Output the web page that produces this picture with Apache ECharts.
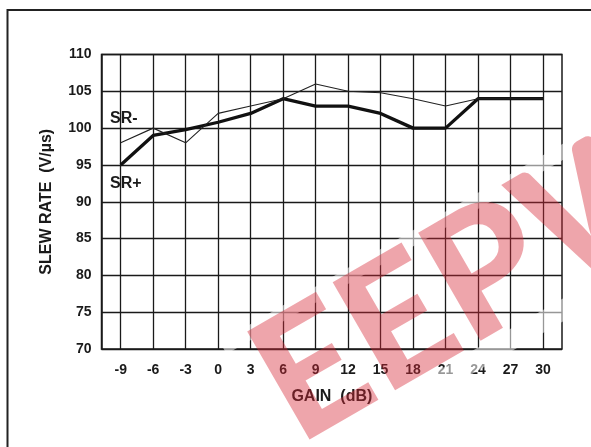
<!DOCTYPE html>
<html><head><meta charset="utf-8">
<script src="https://cdn.jsdelivr.net/npm/echarts@6/dist/echarts.min.js"></script>
<style>html,body{margin:0;padding:0;background:#fff}#c{width:591px;height:447px}</style>
</head><body><div id="c"></div>
<script>
// ---- data ----
const gain    = [-9, -6, -3, 0, 3, 6, 9, 12, 15, 18, 21, 24, 27, 30];
const srPlus  = [95, 99, 99.8, 100.8, 102, 104, 103, 103, 102, 100, 100, 104, 104, 104];
const srMinus = [98, 100, 98, 102, 103, 104, 106, 105, 104.8, 104, 103, 104, 104, 104];
const xRange  = [-9, 30, 3];      // min, max, step of GAIN ticks
const yRange  = [70, 110, 5];     // min, max, step of SLEW RATE ticks
const xTitle  = 'GAIN  (dB)';
const yTitle  = 'SLEW RATE  (V/\u00B5s)';
const seriesNames = ['SR+', 'SR-'];
const watermark = 'EEPW';

const FONT = '"Liberation Sans", Arial, sans-serif';
const ink = '#1a1a1a';
const chart = echarts.init(document.getElementById('c'), null, {renderer: 'canvas'});
const lblStyle = {color: ink, fontWeight: 'bold', fontSize: 14, fontFamily: FONT};
const nameStyle = {color: ink, fontWeight: 'bold', fontSize: 16, fontFamily: FONT};
const pairs = arr => gain.map((g, i) => [g, arr[i]]);
const rot = Math.PI / 6;

chart.setOption({
  animation: false,
  grid: [
    {left: 101.5, right: 29, top: 54.5, bottom: 98, show: true, borderColor: ink, borderWidth: 1.5},
    {left: 120.7, right: 48, top: 54.5, bottom: 98}
  ],
  xAxis: [
    {gridIndex: 0, type: 'value', min: 0, max: 1, show: false},
    {gridIndex: 1, type: 'value', min: xRange[0], max: xRange[1], interval: xRange[2],
      axisLine: {show: false}, axisTick: {show: false},
      splitLine: {show: true, lineStyle: {color: ink, width: 1.3}},
      axisLabel: Object.assign({margin: 14}, lblStyle),
      name: xTitle, nameLocation: 'middle', nameGap: 40,
      nameTextStyle: nameStyle}
  ],
  yAxis: [
    {gridIndex: 0, type: 'value', min: yRange[0], max: yRange[1], interval: yRange[2],
      axisLine: {show: true, lineStyle: {color: ink, width: 1.5}}, axisTick: {show: false},
      splitLine: {show: true, lineStyle: {color: ink, width: 1.3}},
      axisLabel: Object.assign({margin: 10}, lblStyle),
      name: yTitle, nameLocation: 'middle', nameGap: 47,
      nameTextStyle: nameStyle},
    {gridIndex: 1, type: 'value', min: yRange[0], max: yRange[1], show: false}
  ],
  series: [
    {name: seriesNames[0], type: 'line', xAxisIndex: 1, yAxisIndex: 1, data: pairs(srPlus),
      symbol: 'none', lineStyle: {color: '#111', width: 3.3}, z: 3},
    {name: seriesNames[1], type: 'line', xAxisIndex: 1, yAxisIndex: 1, data: pairs(srMinus),
      symbol: 'none', lineStyle: {color: '#222', width: 1.1}, z: 4}
  ],
  graphic: [
    {type: 'rect', shape: {x: 7.5, y: 10, width: 700, height: 600},
      style: {fill: 'none', stroke: '#222', lineWidth: 2}, z: 1, silent: true},
    {type: 'text', x: 110, y: 119, style: {text: seriesNames[1], font: 'bold 16px ' + FONT, fill: ink, textVerticalAlign: 'middle'}, z: 5},
    {type: 'text', x: 110, y: 184, style: {text: seriesNames[0], font: 'bold 16px ' + FONT, fill: ink, textVerticalAlign: 'middle'}, z: 5},
    {type: 'group', x: 274, y: 396, rotation: rot, z: 100, silent: true, children: [
      {type: 'rect', shape: {x: -20, y: -74, width: 720, height: 14}, style: {fill: 'rgba(255,255,255,0.55)'}, z: 100},
      {type: 'rect', shape: {x: 150, y: 60, width: 720, height: 20}, style: {fill: 'rgba(255,255,255,0.55)'}, z: 100},
      {type: 'text', x: -4, y: 0, style: {text: watermark, font: '900 172px Lato, Inter, "Liberation Sans", sans-serif',
        fill: 'rgba(214,40,55,0.42)', textVerticalAlign: 'middle', textAlign: 'left'}, z: 101}
    ]}
  ]
});
</script>
</body></html>
